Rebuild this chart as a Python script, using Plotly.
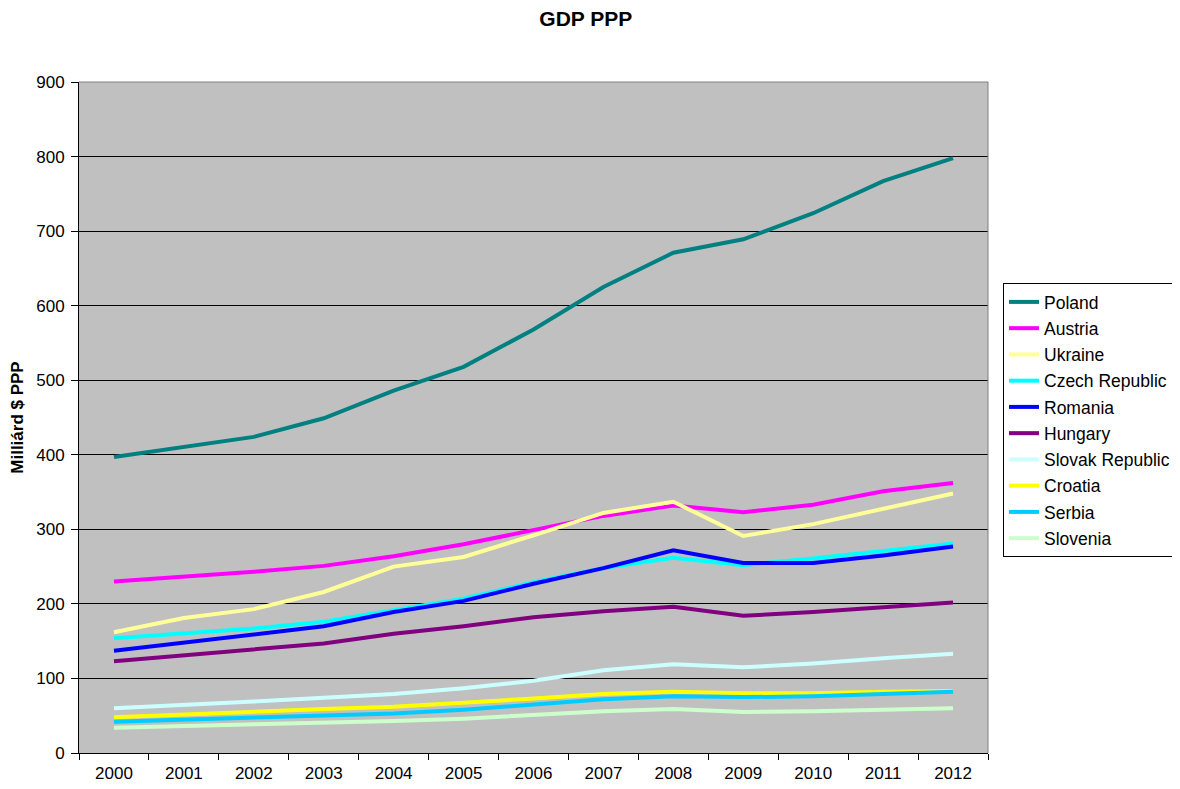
import plotly.graph_objects as go

years = ["2000", "2001", "2002", "2003", "2004", "2005", "2006", "2007", "2008", "2009", "2010", "2011", "2012"]

poland = [397, 411, 424, 449, 486, 518, 568, 625, 671, 689, 724, 767, 798]
austria = [230, 236, 243, 251, 264, 280, 299, 318, 332, 323, 333, 351, 362]
ukraine = [162, 181, 193, 216, 250, 263, 292, 322, 337, 291, 307, 328, 348]
czech = [154, 160, 167, 176, 191, 207, 229, 248, 262, 252, 261, 271, 281]
romania = [137, 148, 159, 170, 189, 204, 227, 248, 272, 255, 255, 265, 277]
hungary = [123, 131, 138, 147, 160, 170, 182, 190, 196, 184, 189, 196, 202]
slovak = [60, 64, 69, 74, 79, 87, 97, 111, 119, 115, 120, 127, 133]
croatia = [48, 52, 56, 59, 62, 67, 73, 79, 82, 80, 80, 82, 83]
serbia = [42, 45, 47, 50, 53, 58, 65, 72, 76, 75, 76, 79, 82]
slovenia = [34, 36, 38, 40, 43, 46, 51, 56, 59, 55, 56, 58, 60]

series = [
    ("Poland", poland, "#008080"),
    ("Austria", austria, "#FF00FF"),
    ("Ukraine", ukraine, "#FFFF99"),
    ("Czech Republic", czech, "#00FFFF"),
    ("Romania", romania, "#0000FF"),
    ("Hungary", hungary, "#800080"),
    ("Slovak Republic", slovak, "#CCFFFF"),
    ("Croatia", croatia, "#FFFF00"),
    ("Serbia", serbia, "#00CCFF"),
    ("Slovenia", slovenia, "#CCFFCC"),
]

fig = go.Figure()
for name, vals, col in series:
    fig.add_trace(go.Scatter(
        x=years, y=vals, name=name, mode="lines",
        line=dict(color=col, width=4), legendgroup=name,
    ))

FONT = "Arial, Liberation Sans, sans-serif"

fig.update_layout(
    width=1172, height=781,
    margin=dict(l=71, r=192, t=74, b=36, autoexpand=False),
    paper_bgcolor="white",
    plot_bgcolor="#C0C0C0",
    font=dict(family=FONT, size=17, color="black"),
    title=dict(text="<b>GDP PPP</b>", x=0.493, xref="container", xanchor="center",
               y=0.986, yanchor="middle",
               font=dict(size=21, color="black")),
    showlegend=True,
    legend=dict(
        x=1.0165, y=0.7004, xanchor="left", yanchor="top",
        bgcolor="white", bordercolor="black", borderwidth=1,
        font=dict(size=17.5, color="black"),
        traceorder="grouped", tracegroupgap=0.5,
    ),
    shapes=[
        dict(type="line", xref="paper", yref="paper", x0=0, x1=1, y0=1, y1=1,
             line=dict(color="#808080", width=1)),
        dict(type="line", xref="paper", yref="paper", x0=1, x1=1, y0=0, y1=1,
             line=dict(color="#808080", width=1)),
    ],
)

fig.update_xaxes(
    type="category", range=[-0.5, 12.5], automargin=False,
    showgrid=False, showline=True, linecolor="#000000", linewidth=1,
    ticks="outside", tickson="boundaries", ticklen=6, tickcolor="#000000",
    tickfont=dict(size=17), ticklabelstandoff=5,
)
fig.update_yaxes(
    range=[0, 900], dtick=100, automargin=False,
    showgrid=True, gridcolor="#000000", gridwidth=1,
    showline=True, linecolor="#000000", linewidth=1,
    ticks="outside", ticklen=7, tickcolor="#000000",
    tickfont=dict(size=17), zeroline=False, ticklabelstandoff=3,
    title=dict(text="<b>Milliárd $ PPP</b>", font=dict(size=17), standoff=10),
)

fig.write_html("out.html")
